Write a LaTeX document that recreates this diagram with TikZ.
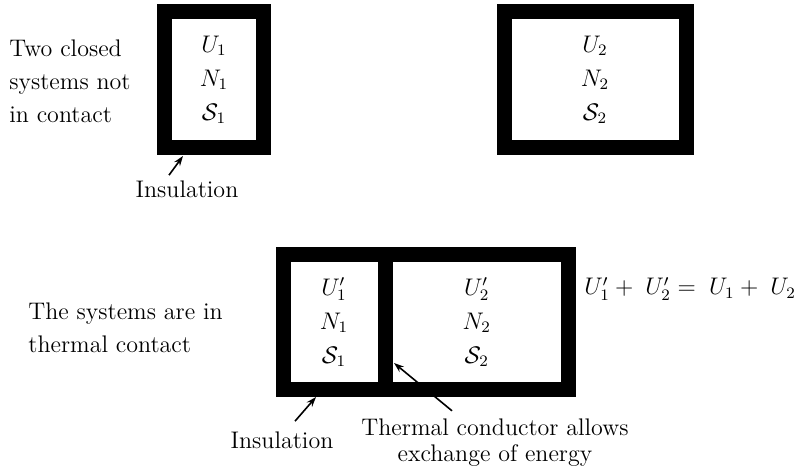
\documentclass[tikz,border=0pt]{standalone}
\usepackage{amsmath,amssymb}
\usepackage{tikz}
\usetikzlibrary{arrows.meta,positioning,calc}
\tikzset{
  wall/.style={draw, line width=7.5pt, rectangle, inner sep=0pt, align=center, font=\fontsize{12}{17}\selectfont},
  note/.style={align=left, inner sep=0pt, font=\fontsize{12}{16.5}\selectfont},
  pointer/.style={-{Stealth[length=5pt,width=3.5pt]}, line width=0.8pt},
}

\begin{document}
\begin{tikzpicture}[x=0.5pt, y=-0.5pt]
  \useasboundingbox (0,0) rectangle (806,475);

  % SEPARATE SYSTEMS
  \node[wall, minimum width=49.5pt, minimum height=68pt] (sysA) at (214,80) {$U_1$\\$N_1$\\$\mathcal{S}_1$};
  \node[wall, minimum width=91pt, minimum height=68pt] (sysB) at (595,80) {$U_2$\\$N_2$\\$\mathcal{S}_2$};
  \node[note, anchor=west] (apart) at (9,81) {Two closed\\systems not\\in contact};
  \node[note, align=center] (ins1) at (187,189) {Insulation};
  \coordinate (tipA) at (183,156);
  \draw[pointer] ([xshift=-9pt,yshift=2.5pt]ins1.north) -- (tipA);

  % SYSTEMS IN CONTACT
  \node[wall, outer sep=0pt, minimum width=51pt, minimum height=67.5pt] (cA) at (334,322) {$U_1'$\\$N_1$\\$\mathcal{S}_1$};
  \node[wall, outer sep=0pt, anchor=west, minimum width=91.75pt, minimum height=67.5pt] (cB) at (cA.east) {$U_2'$\\$N_2$\\$\mathcal{S}_2$};
  \node[note, anchor=west] (sum) at (584,289) {$U_1' +\; U_2' =\; U_1 +\; U_2$};
  \node[note, anchor=west] (joined) at (28,328) {The systems are in\\thermal contact};
  \node[note, align=center] (ins2) at (282,440) {Insulation};
  \node[note, align=center, font=\fontsize{12}{13}\selectfont] (cond) at (495,443) {Thermal conductor allows\\exchange of energy};
  \coordinate (tipB) at (316,397);
  \coordinate (tipC) at (394,363);
  \draw[pointer] ([xshift=6.5pt,yshift=5pt]ins2.north) -- (tipB);
  \draw[pointer] ([xshift=-21.5pt,yshift=4pt]cond.north) -- (tipC);

\end{tikzpicture}
\end{document}
